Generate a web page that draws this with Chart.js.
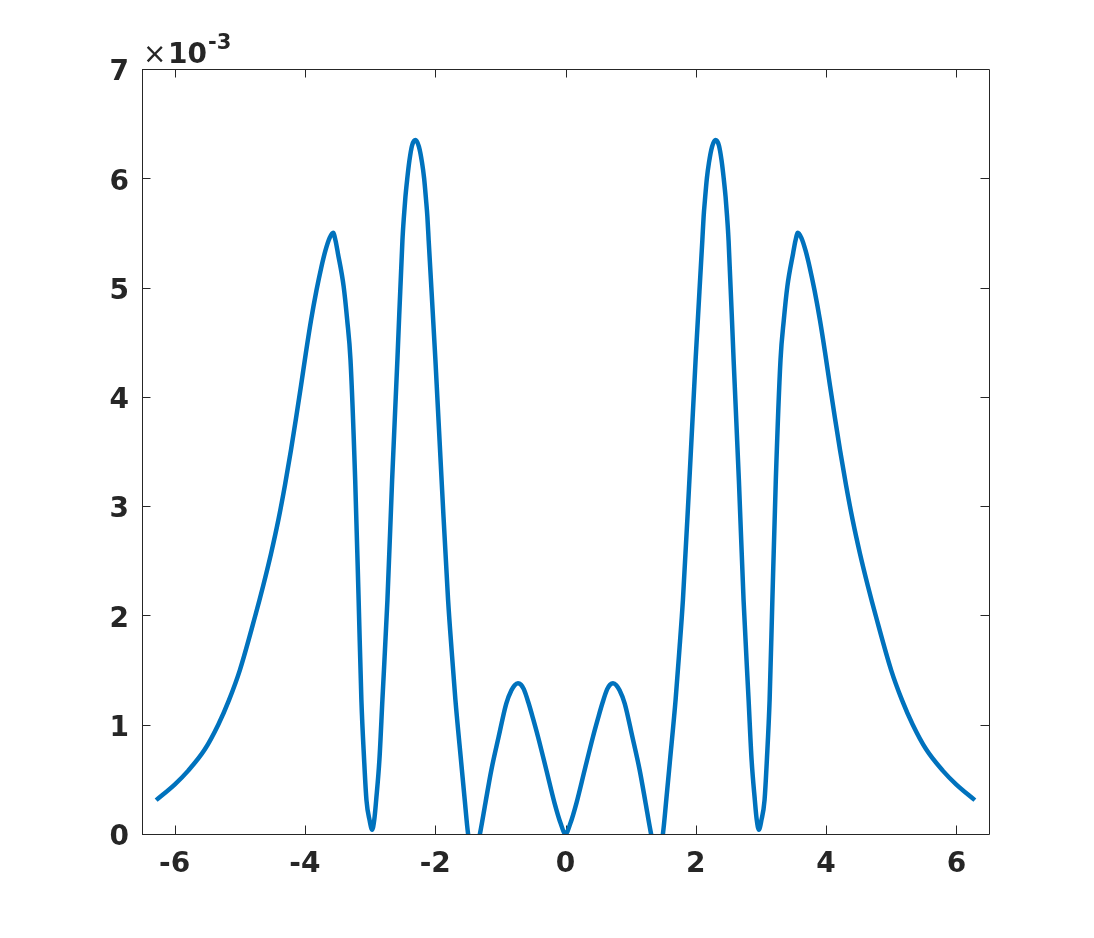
<!DOCTYPE html>
<html>
<head>
<meta charset="utf-8">
<script src="https://cdn.jsdelivr.net/npm/chart.js@4.4.1/dist/chart.umd.min.js"></script>
<style>
  html, body { margin: 0; padding: 0; background: #fff; }
</style>
</head>
<body>
<canvas id="plot" width="1094" height="938"></canvas>
<script>
// curve samples, y in units of 1e-3
const xValues = [
  -6.283,
  -5.995, -5.790, -5.535, -5.330, -5.165, -4.998, -4.765, -4.643, -4.520, -4.405,
  -4.305, -4.213, -4.137, -4.060, -3.983, -3.906, -3.822, -3.750, -3.684, -3.620,
  -3.566, -3.530, -3.494, -3.405, -3.351, -3.300, -3.228, -3.175, -3.133, -3.091,
  -3.055, -3.005, -2.968, -2.935, -2.906, -2.856, -2.810, -2.733, -2.661, -2.580,
  -2.503, -2.480, -2.457, -2.430, -2.396, -2.355, -2.304, -2.250, -2.201, -2.170,
  -2.140, -2.120, -2.100, -1.997, -1.894, -1.802, -1.745, -1.690, -1.600, -1.548,
  -1.495, -1.460, -1.410, -1.350, -1.302, -1.230, -1.138, -1.026, -0.908, -0.830,
  -0.780, -0.729, -0.685, -0.640, -0.566, -0.500, -0.422, -0.294, -0.167, -0.075,
  0.000,
  0.075, 0.167, 0.294, 0.422, 0.500, 0.566, 0.640, 0.685, 0.729, 0.780,
  0.830, 0.908, 1.026, 1.138, 1.230, 1.302, 1.350, 1.410, 1.460, 1.495,
  1.548, 1.600, 1.690, 1.745, 1.802, 1.894, 1.997, 2.100, 2.120, 2.140,
  2.170, 2.201, 2.250, 2.304, 2.355, 2.396, 2.430, 2.457, 2.480, 2.503,
  2.580, 2.661, 2.733, 2.810, 2.856, 2.906, 2.935, 2.968, 3.005, 3.055,
  3.091, 3.133, 3.175, 3.228, 3.300, 3.351, 3.405, 3.494, 3.530, 3.566,
  3.620, 3.684, 3.750, 3.822, 3.906, 3.983, 4.060, 4.137, 4.213, 4.305,
  4.405, 4.520, 4.643, 4.765, 4.998, 5.165, 5.330, 5.535, 5.790, 5.995,
  6.283
];
const yValues = [
  0.310,
  0.455, 0.580, 0.775, 1.000, 1.225, 1.500, 1.990, 2.265, 2.565, 2.880,
  3.195, 3.515, 3.800, 4.100, 4.410, 4.700, 4.975, 5.180, 5.340, 5.455,
  5.502, 5.430, 5.316, 5.010, 4.705, 4.339, 3.240, 2.140, 1.230, 0.680,
  0.310, 0.120, 0.040, 0.130, 0.310, 0.680, 1.230, 2.140, 3.240, 4.340,
  5.430, 5.650, 5.830, 5.990, 6.160, 6.300, 6.350, 6.290, 6.140, 6.000,
  5.800, 5.650, 5.430, 4.340, 3.150, 2.140, 1.660, 1.230, 0.650, 0.320,
  0.000, -0.100, -0.150, -0.100, 0.037, 0.281, 0.586, 0.890, 1.196, 1.315,
  1.362, 1.380, 1.367, 1.325, 1.196, 1.060, 0.890, 0.586, 0.281, 0.098,
  0.000,
  0.098, 0.281, 0.586, 0.890, 1.060, 1.196, 1.325, 1.367, 1.380, 1.362,
  1.315, 1.196, 0.890, 0.586, 0.281, 0.037, -0.100, -0.150, -0.100, 0.000,
  0.320, 0.650, 1.230, 1.660, 2.140, 3.150, 4.340, 5.430, 5.650, 5.800,
  6.000, 6.140, 6.290, 6.350, 6.300, 6.160, 5.990, 5.830, 5.650, 5.430,
  4.340, 3.240, 2.140, 1.230, 0.680, 0.310, 0.130, 0.040, 0.120, 0.310,
  0.680, 1.230, 2.140, 3.240, 4.339, 4.705, 5.010, 5.316, 5.430, 5.502,
  5.455, 5.340, 5.180, 4.975, 4.700, 4.410, 4.100, 3.800, 3.515, 3.195,
  2.880, 2.565, 2.265, 1.990, 1.500, 1.225, 1.000, 0.775, 0.580, 0.455,
  0.310
];
const xTicks = [-6, -4, -2, 0, 2, 4, 6];
const yTicks = [0, 1, 2, 3, 4, 5, 6, 7];
const exponentLabel = '-3';

const textColor = '#262626';
const tickFont = { family: 'DejaVu Sans', size: 28, weight: 'bold' };

// matlab style box with inward ticks on all four sides
const axesBox = {
  id: 'axesBox',
  beforeDatasetsDraw(chart) {
    const { ctx, chartArea: a, scales } = chart;
    const len = 8.5;
    ctx.save();
    ctx.strokeStyle = textColor;
    ctx.lineWidth = 1;
    ctx.beginPath();
    ctx.rect(a.left + 0.5, a.top + 0.5, a.right - a.left, a.bottom - a.top);
    for (const v of xTicks) {
      const px = Math.round(scales.x.getPixelForValue(v)) + 0.5;
      ctx.moveTo(px, a.bottom); ctx.lineTo(px, a.bottom - len);
      ctx.moveTo(px, a.top); ctx.lineTo(px, a.top + len);
    }
    for (const v of yTicks) {
      const py = Math.round(scales.y.getPixelForValue(v)) + 0.5;
      ctx.moveTo(a.left, py); ctx.lineTo(a.left + len, py);
      ctx.moveTo(a.right, py); ctx.lineTo(a.right - len, py);
    }
    ctx.stroke();
    ctx.restore();
  },
  afterDraw(chart) {
    const ctx = chart.ctx;
    ctx.save();
    ctx.fillStyle = textColor;
    ctx.textAlign = 'left';
    ctx.textBaseline = 'alphabetic';
    ctx.font = 'normal 28px "DejaVu Sans"';
    ctx.fillText('\u00d7', 143, 63);
    ctx.font = 'bold 28px "DejaVu Sans"';
    ctx.fillText('10', 168, 63);
    ctx.font = 'bold 21px "DejaVu Sans"';
    ctx.fillText(exponentLabel, 208, 49);
    ctx.restore();
  }
};

new Chart(document.getElementById('plot'), {
  type: 'line',
  data: {
    datasets: [{
      data: xValues.map((x, i) => ({ x: x, y: yValues[i] })),
      borderColor: '#0072BD',
      borderWidth: 4.5,
      pointRadius: 0,
      fill: false,
      cubicInterpolationMode: 'monotone',
      clip: 0
    }]
  },
  options: {
    responsive: false,
    animation: false,
    layout: { padding: { top: 69, right: 105, left: 0, bottom: 0 } },
    plugins: { legend: { display: false }, tooltip: { enabled: false } },
    scales: {
      x: {
        type: 'linear',
        min: -6.5,
        max: 6.5,
        afterBuildTicks: s => { s.ticks = xTicks.map(v => ({ value: v })); },
        afterFit: s => { s.height = 104; },
        grid: { display: false, drawTicks: false },
        border: { display: false },
        ticks: {
          font: tickFont, color: textColor, padding: 14,
          maxRotation: 0, autoSkip: false,
          callback: v => String(v)
        }
      },
      y: {
        type: 'linear',
        min: 0,
        max: 7,
        afterBuildTicks: s => { s.ticks = yTicks.map(v => ({ value: v })); },
        afterFit: s => { s.width = 142; },
        grid: { display: false, drawTicks: false },
        border: { display: false },
        ticks: {
          font: tickFont, color: textColor, padding: 13,
          labelOffset: 4, autoSkip: false,
          callback: v => String(v)
        }
      }
    }
  },
  plugins: [axesBox]
});
</script>
</body>
</html>
